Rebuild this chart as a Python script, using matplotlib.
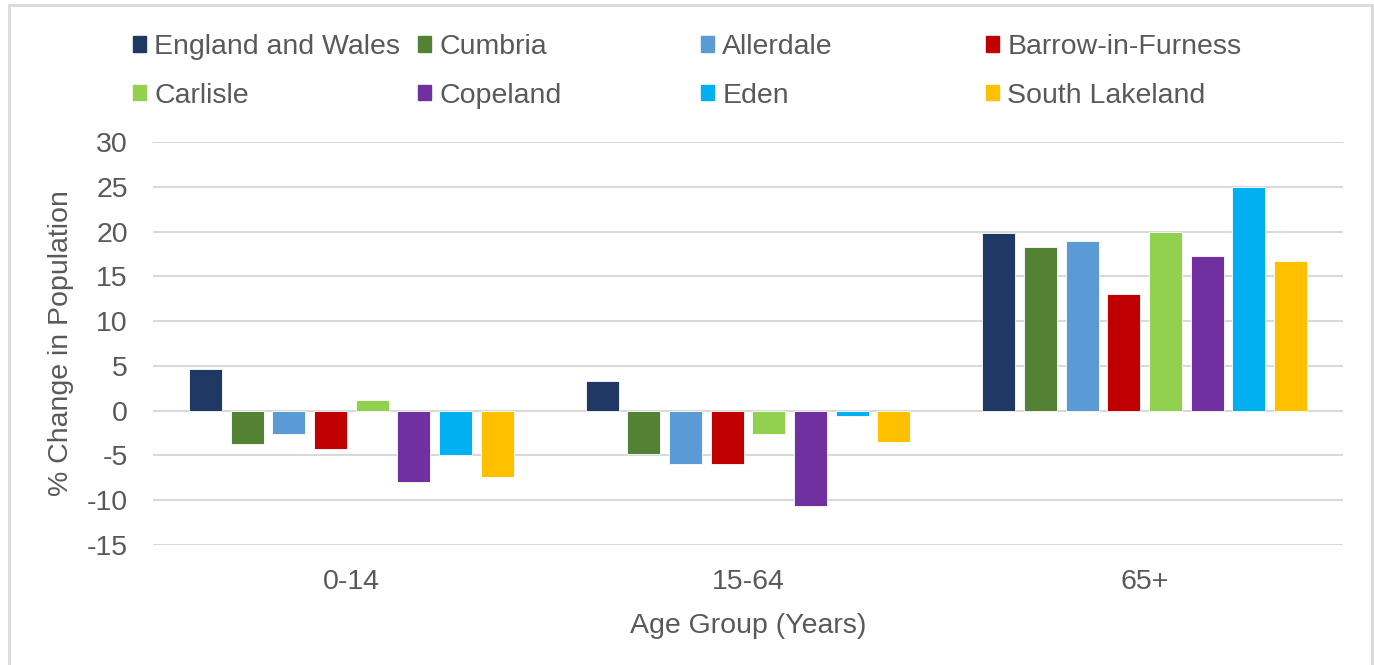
import matplotlib.pyplot as plt
import matplotlib.patches as mpatches
import numpy as np

plt.rcParams['font.family'] = ['Liberation Sans', 'DejaVu Sans']
plt.rcParams['axes.unicode_minus'] = False

# data
groups = ['0-14', '15-64', '65+']
areas = ['England and Wales', 'Cumbria', 'Allerdale', 'Barrow-in-Furness',
         'Carlisle', 'Copeland', 'Eden', 'South Lakeland']
england_wales = [4.7, 3.3, 19.85]
cumbria = [-3.7, -4.85, 18.25]
allerdale = [-2.6, -6.0, 19.0]
barrow = [-4.3, -6.0, 13.0]
carlisle = [1.15, -2.6, 20.0]
copeland = [-8.0, -10.6, 17.25]
eden = [-5.0, -0.55, 24.95]
south_lakeland = [-7.4, -3.55, 16.7]
yticks = list(range(-15, 31, 5))

series = [england_wales, cumbria, allerdale, barrow,
          carlisle, copeland, eden, south_lakeland]
colours = ['#203864', '#548235', '#5B9BD5', '#C00000',
           '#92D050', '#7030A0', '#00B0F0', '#FFC000']

txt = '#595959'
fs = 20.5

fig = plt.figure(figsize=(13.74, 6.65), dpi=100)
ax = fig.add_axes([153/1374, 120/665, 1190/1374, 403/665])

x = np.arange(len(groups))
pitch = 0.105
width = 0.083
handles = []
for i, (vals, col) in enumerate(zip(series, colours)):
    off = (i - 3.5) * pitch
    ax.bar(x + off, vals, width, color=col, edgecolor='white',
           linewidth=0.6, zorder=3, label=areas[i])
    handles.append(mpatches.Patch(color=col))

ax.set_xlim(-0.5, 2.5)
ax.set_ylim(-15, 30)
ax.set_yticks(yticks)
ax.set_xticks(x)
ax.set_xticklabels(groups)
ax.yaxis.grid(True, color='#D9D9D9', linewidth=1.5, zorder=0)
ax.set_axisbelow(True)
for s in ax.spines.values():
    s.set_visible(False)
ax.tick_params(axis='both', length=0, labelsize=fs, labelcolor=txt)
ax.tick_params(axis='x', pad=17)
ax.tick_params(axis='y', pad=18)

ax.set_xlabel('Age Group (Years)', fontsize=fs, color=txt, labelpad=13)
ax.set_ylabel('% Change in Population', fontsize=fs, color=txt, labelpad=9)

# legend: four columns placed at fixed positions
col_x = [133, 418, 701, 986]
for j in range(4):
    leg = fig.legend([handles[j], handles[j + 4]], [areas[j], areas[j + 4]],
                     loc='upper left', bbox_to_anchor=(col_x[j]/1374, 1 - 34/665),
                     frameon=False, fontsize=fs, handlelength=0.45,
                     handleheight=0.45, handletextpad=0.3, labelspacing=0.8,
                     borderpad=0, borderaxespad=0)
    for t in leg.get_texts():
        t.set_color(txt)

# light grey frame around the chart
fig.patches.append(mpatches.Rectangle((9/1374, -0.05), 1363/1374, 1.05 - 5/665,
                                      transform=fig.transFigure, fill=False,
                                      edgecolor='#D9D9D9', linewidth=2))

fig.savefig('out.png', dpi=100)
